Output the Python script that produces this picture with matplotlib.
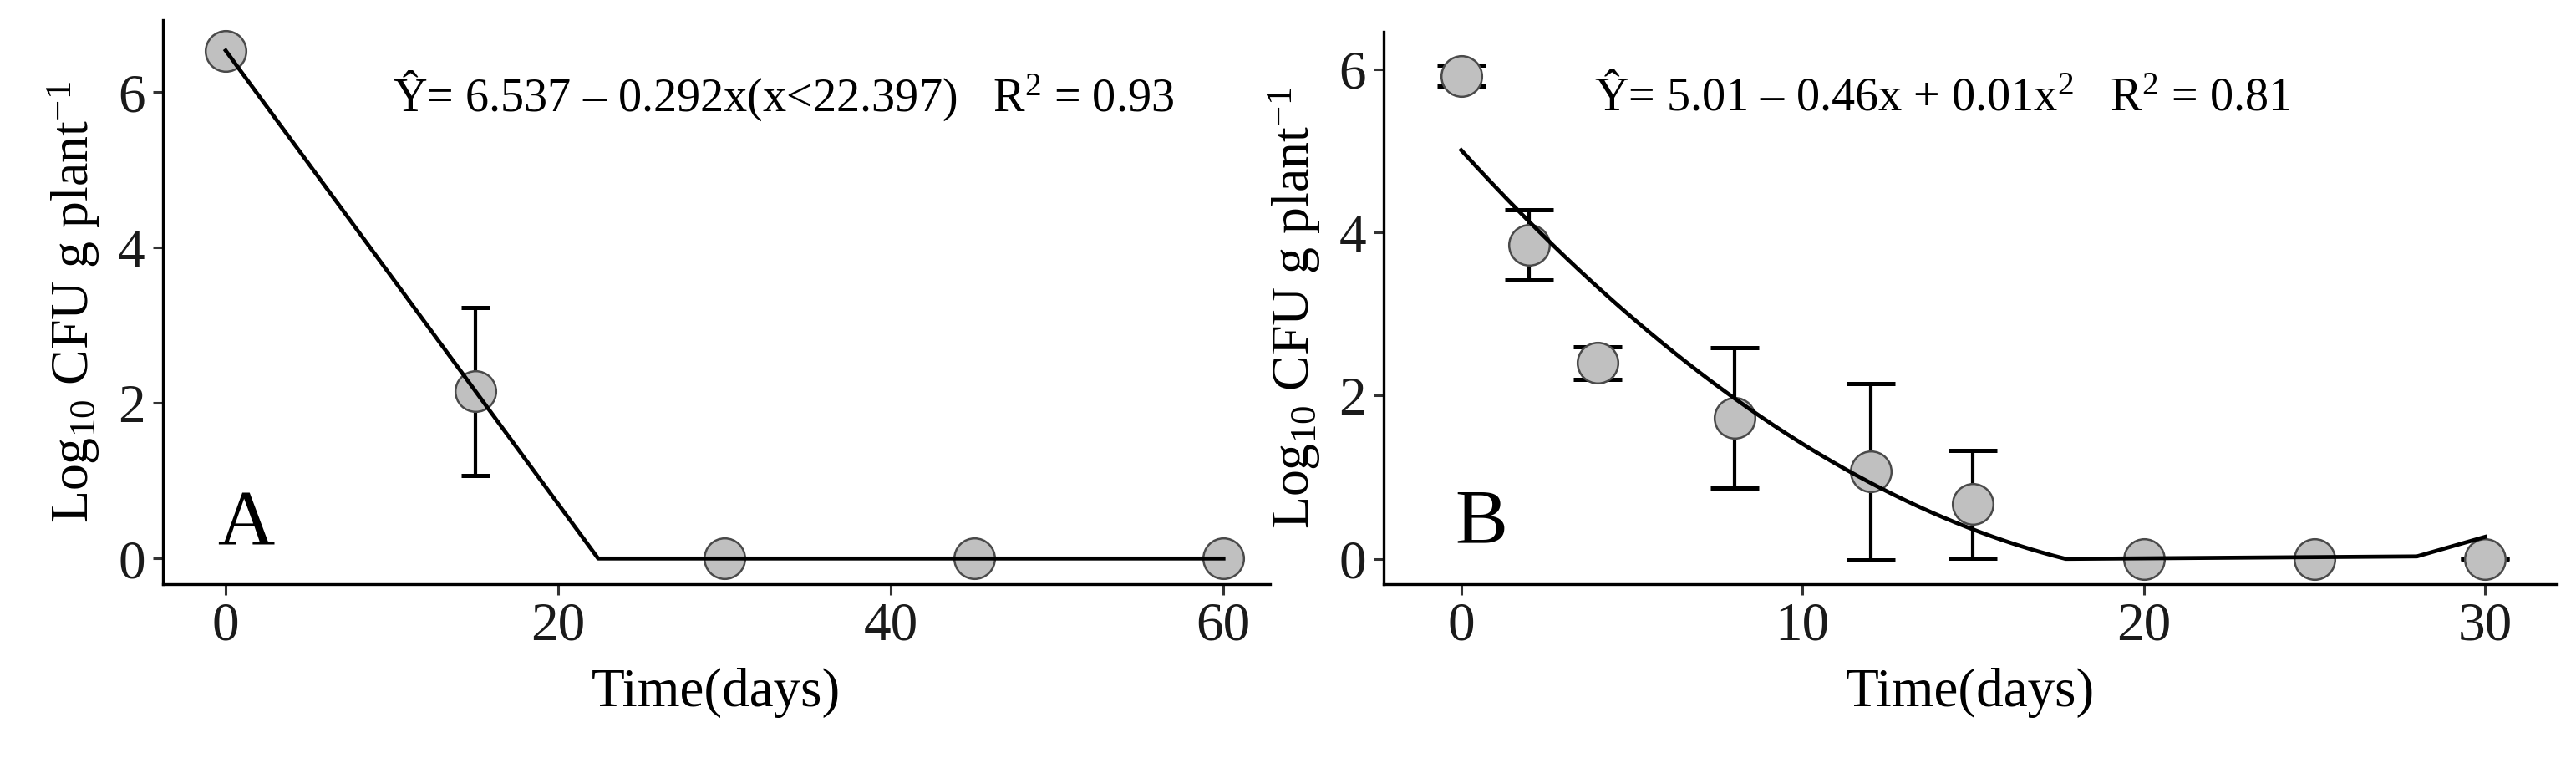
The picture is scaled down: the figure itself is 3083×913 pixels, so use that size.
import numpy as np
import matplotlib
matplotlib.use("Agg")
import matplotlib.pyplot as plt

# ---------------- data ----------------
# Panel A
a_days = [0, 15, 30, 45, 60]
a_logcfu = [6.53, 2.15, 0.0, 0.0, 0.0]
a_sd = [np.nan, 1.08, np.nan, np.nan, np.nan]
a_fit_x = [0, 22.397, 60]
a_fit_y = [6.537, 0.0, 0.0]
a_xticks = [0, 20, 40, 60]
a_yticks = [0, 2, 4, 6]

# Panel B
b_days = [0, 2, 4, 8, 12, 15, 20, 25, 30]
b_logcfu = [5.92, 3.85, 2.40, 1.73, 1.07, 0.67, 0.0, 0.0, 0.0]
b_sd = [0.13, 0.43, 0.20, 0.86, 1.08, 0.66, np.nan, np.nan, 0.005]
b_coef = [0.01, -0.46, 5.01]          # 0.01x^2 - 0.46x + 5.01
b_fit_end = 17.8                       # where the fitted curve reaches 0
b_tail_x = [28.0, 30.0]
b_tail_y = [0.03, 0.27]
b_xticks = [0, 10, 20, 30]
b_yticks = [0, 2, 4, 6]

eq_a = "Ŷ= 6.537 – 0.292x(x<22.397)   R$^{2}$ = 0.93"
eq_b = "Ŷ= 5.01 – 0.46x + 0.01x$^{2}$   R$^{2}$ = 0.81"

# ---------------- style ----------------
plt.rcParams['font.family'] = ['Liberation Serif', 'DejaVu Serif']
plt.rcParams['mathtext.fontset'] = 'custom'
plt.rcParams['mathtext.rm'] = 'Liberation Serif'
plt.rcParams['mathtext.it'] = 'Liberation Serif'

W, H = 3083, 913
fig = plt.figure(figsize=(W / 100, H / 100), dpi=100)

fill = '#c0c0c0'
edge = '#4a4a4a'


def style_axes(ax, xticks, yticks):
    for s in ['top', 'right']:
        ax.spines[s].set_visible(False)
    for s in ['left', 'bottom']:
        ax.spines[s].set_linewidth(2.4)
        ax.spines[s].set_color('black')
    ax.set_xticks(xticks)
    ax.set_yticks(yticks)
    ax.tick_params(axis='both', direction='out', length=9, width=2.2,
                   color='#333333', labelsize=47, labelcolor='#1a1a1a', pad=6)
    ax.set_xlabel("Time(days)", fontsize=47, labelpad=14)
    ax.set_ylabel("Log$_{10}$ CFU g plant$^{-1}$", fontsize=46, labelpad=14)


# Panel A
axA = fig.add_axes([194.5 / W, 1 - 699 / H, (1520 - 194.5) / W, (699 - 24) / H])
axA.errorbar(a_days, a_logcfu, yerr=a_sd, fmt='none', ecolor='black',
             elinewidth=3.0, capsize=12, capthick=3.6, zorder=2)
axA.plot(a_days, a_logcfu, 'o', ms=35, mfc=fill, mec=edge, mew=1.8, zorder=3)
axA.plot(a_fit_x, a_fit_y, '-', color='black', lw=3.4, zorder=4)
axA.set_xlim(-3.8, 62.8)
axA.set_ylim(-0.33, 6.93)
style_axes(axA, a_xticks, a_yticks)
axA.text(10.05, 5.76, eq_a, fontsize=40.5, ha='left', va='baseline')
axA.text(-0.5, 0.18, "A", fontsize=68, ha='left', va='baseline')

# Panel B
axB = fig.add_axes([1656 / W, 1 - 699 / H, (3060 - 1656) / W, (699 - 38) / H])
axB.errorbar(b_days, b_logcfu, yerr=b_sd, fmt='none', ecolor='black',
             elinewidth=3.0, capsize=21, capthick=3.6, zorder=2)
axB.plot(b_days, b_logcfu, 'o', ms=35, mfc=fill, mec=edge, mew=1.8, zorder=3)
fx = np.linspace(0, b_fit_end, 200)
fy = np.clip(np.polyval(b_coef, fx), 0, None)
fx = np.concatenate([fx, b_tail_x])
fy = np.concatenate([fy, b_tail_y])
axB.plot(fx, fy, '-', color='black', lw=3.4, zorder=4)
axB.set_xlim(-2.27, 32.1)
axB.set_ylim(-0.31, 6.46)
style_axes(axB, b_xticks, b_yticks)
axB.text(3.9, 5.50, eq_b, fontsize=40.5, ha='left', va='baseline')
axB.text(-0.19, 0.2, "B", fontsize=68, ha='left', va='baseline')

fig.savefig("out.png", dpi=100, facecolor='white')
